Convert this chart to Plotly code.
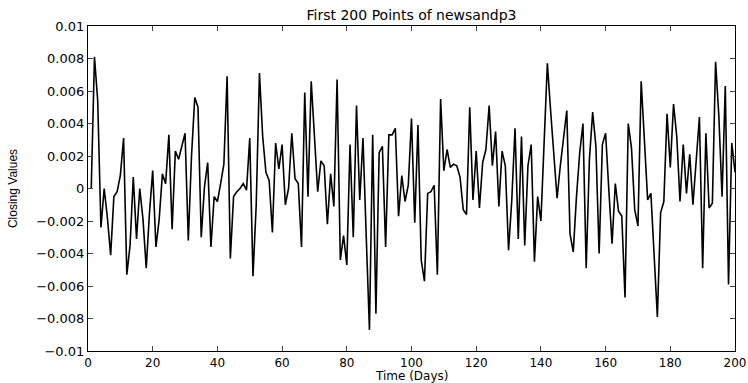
import plotly.graph_objects as go

days = list(range(1, 201))
closing = [
    0.0000, 0.0081, 0.0054, -0.0024, 0.0000, -0.0018, -0.0041, -0.0005, -0.0002, 0.0008,
    0.0031, -0.0053, -0.0035, 0.0007, -0.0031, 0.0000, -0.0019, -0.0049, -0.0015, 0.0011,
    -0.0036, -0.0019, 0.0009, 0.0003, 0.0033, -0.0025, 0.0023, 0.0018, 0.0026, 0.0034,
    -0.0032, 0.0020, 0.0056, 0.0050, -0.0030, 0.0001, 0.0016, -0.0036, -0.0005, -0.0008,
    0.0003, 0.0015, 0.0069, -0.0043, -0.0005, -0.0002, 0.0000, 0.0003, -0.0001, 0.0031,
    -0.0054, -0.0010, 0.0071, 0.0032, 0.0010, 0.0005, -0.0027, 0.0028, 0.0012, 0.0027,
    -0.0010, 0.0000, 0.0034, 0.0006, 0.0003, -0.0036, 0.0059, -0.0005, 0.0066, 0.0030,
    -0.0002, 0.0017, 0.0014, -0.0022, 0.0009, -0.0011, 0.0067, -0.0044, -0.0029, -0.0047,
    0.0027, -0.0030, 0.0051, -0.0007, 0.0031, -0.0029, -0.0087, 0.0033, -0.0077, 0.0022,
    0.0026, -0.0036, 0.0033, 0.0033, 0.0037, -0.0017, 0.0008, -0.0008, 0.0002, 0.0043,
    -0.0021, 0.0039, -0.0044, -0.0057, -0.0003, -0.0002, 0.0002, -0.0053, 0.0055, 0.0011,
    0.0024, 0.0013, 0.0015, 0.0014, 0.0007, -0.0013, -0.0016, 0.0050, -0.0007, 0.0023,
    -0.0012, 0.0016, 0.0024, 0.0051, 0.0014, 0.0035, -0.0011, 0.0023, 0.0014, -0.0038,
    -0.0007, 0.0037, -0.0031, 0.0032, -0.0035, 0.0014, 0.0027, -0.0045, -0.0005, -0.0020,
    0.0030, 0.0077, 0.0048, 0.0022, -0.0006, 0.0014, 0.0030, 0.0048, -0.0028, -0.0039,
    -0.0005, 0.0022, 0.0040, -0.0049, 0.0018, 0.0047, 0.0026, -0.0040, 0.0027, 0.0034,
    -0.0001, -0.0034, 0.0003, -0.0014, -0.0017, -0.0067, 0.0040, 0.0025, -0.0013, -0.0023,
    0.0066, 0.0030, -0.0007, -0.0003, -0.0040, -0.0079, -0.0015, -0.0008, 0.0046, 0.0013,
    0.0052, 0.0032, -0.0008, 0.0027, -0.0003, 0.0021, -0.0010, 0.0016, 0.0044, -0.0049,
    0.0034, -0.0012, -0.0009, 0.0078, 0.0045, -0.0005, 0.0063, -0.0059, 0.0028, 0.0010,
]

x_ticks = [0, 20, 40, 60, 80, 100, 120, 140, 160, 180, 200]
y_ticks = [0.01, 0.008, 0.006, 0.004, 0.002, 0, -0.002, -0.004, -0.006, -0.008, -0.01]
y_tick_text = ["0.01", "0.008", "0.006", "0.004", "0.002", "0",
               "\u22120.002", "\u22120.004", "\u22120.006", "\u22120.008", "\u22120.01"]

tick_font = "DejaVu Sans, Verdana, sans-serif"
label_font = "Liberation Sans, Arial, sans-serif"

fig = go.Figure()
fig.add_trace(go.Scatter(x=days, y=closing, mode="lines",
                         line=dict(color="black", width=1.6), showlegend=False))

fig.update_layout(
    width=748, height=383,
    margin=dict(l=88, r=13, t=26, b=32, autoexpand=False),
    paper_bgcolor="white", plot_bgcolor="white",
    font=dict(family=tick_font, size=13, color="black"),
    title=dict(text="First 200 Points of newsandp3", xref="paper", x=0.5,
               xanchor="center", yref="container", y=1 - 15 / 383,
               yanchor="middle", font=dict(family=tick_font, size=14, color="black")),
    annotations=[dict(text="Time (Days)", xref="paper", x=0.5, xanchor="center",
                      yref="paper", y=-0.1, yanchor="bottom", showarrow=False,
                      font=dict(family=tick_font, size=12, color="black"),
                      borderpad=0)],
)
fig.update_xaxes(
    range=[0, 200], tickvals=x_ticks, ticks="inside", ticklen=5,
    showline=True, linecolor="black", linewidth=1.2, mirror="ticks",
    showgrid=False, zeroline=False, automargin=False,
    tickfont=dict(size=12),
)
fig.update_yaxes(
    range=[-0.01, 0.01], tickvals=y_ticks, ticktext=y_tick_text,
    ticks="inside", ticklen=5,
    showline=True, linecolor="black", linewidth=1.2, mirror="ticks",
    showgrid=False, zeroline=False, automargin=False,
    title=dict(text="Closing Values", font=dict(family=label_font, size=12)),
    tickfont=dict(size=13),
)

fig.write_html("out.html")
